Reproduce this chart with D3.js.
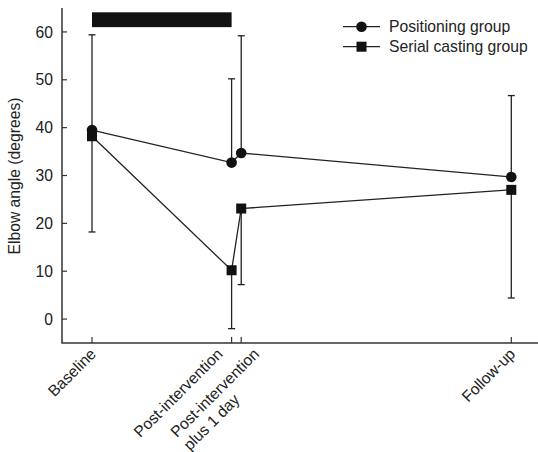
<!DOCTYPE html>
<html>
<head>
<meta charset="utf-8">
<script src="https://cdn.jsdelivr.net/npm/d3@7"></script>
<style>
  body { margin: 0; background: #fff; }
  text { font-family: "Liberation Sans", Arial, sans-serif; fill: #222; }
</style>
</head>
<body>
<div id="chart"></div>
<script>
// time points (days from baseline) and their labels
var timeDays = [0, 14.55, 15.55, 43.7];
var timeLabels = [["Baseline"], ["Post-intervention"], ["Post-intervention", "plus 1 day"], ["Follow-up"]];

// Positioning group: mean and upper SD bar
var posMean = [39.5, 32.7, 34.7, 29.7];
var posUpper = [59.4, 50.2, 59.2, 46.7];
// Serial casting group: mean and lower SD bar
var castMean = [38.2, 10.2, 23.1, 27.0];
var castLower = [18.2, -2.0, 7.2, 4.4];

var yTicks = [0, 10, 20, 30, 40, 50, 60];
var interventionBar = {from: 0, to: 14.55, low: 61, high: 64.1};

// horizontal nudge of crowded x labels (px)
var labelNudge = [0, -13, 14, 0];
var fontSize = "15.7px";

var W = 538, H = 452;
var svg = d3.select("#chart").append("svg")
  .attr("width", W).attr("height", H);

var x = d3.scaleLinear().domain([0, 43.7]).range([92, 511.3]);
var y = d3.scaleLinear().domain([-5, 65]).range([343, 8]);

// axes lines
svg.append("line").attr("x1", 61.3).attr("x2", W)
  .attr("y1", y(-5)).attr("y2", y(-5))
  .attr("stroke", "#333").attr("stroke-width", 1.5);
svg.append("line").attr("x1", 62).attr("x2", 62)
  .attr("y1", y(65)).attr("y2", y(-5))
  .attr("stroke", "#333").attr("stroke-width", 1.5);

// y ticks (inside)
svg.selectAll(".ytick").data(yTicks).join("line")
  .attr("x1", 62).attr("x2", 67)
  .attr("y1", d => y(d)).attr("y2", d => y(d))
  .attr("stroke", "#333").attr("stroke-width", 1.2);
svg.selectAll(".ylab").data(yTicks).join("text")
  .attr("x", 53).attr("y", d => y(d)).attr("dy", "0.36em")
  .attr("text-anchor", "end").style("font-size", fontSize)
  .text(d => d);

// x ticks (inside)
svg.selectAll(".xtick").data(timeDays).join("line")
  .attr("x1", d => x(d)).attr("x2", d => x(d))
  .attr("y1", y(-5)).attr("y2", y(-5) - 6)
  .attr("stroke", "#333").attr("stroke-width", 1.2);

// rotated labels: block right-anchored on its first line, lines left-aligned
svg.selectAll(".xlab").data(timeDays).join("text")
  .attr("transform", (d, i) => "translate(" + (x(d) + 5 + labelNudge[i]) + "," + (y(-5) + 12) + ") rotate(-45)")
  .style("font-size", fontSize)
  .each(function(d, i) {
    var t = d3.select(this);
    var spans = timeLabels[i].map(function(s, j) {
      return t.append("tspan").attr("dy", j == 0 ? 0 : "1.17em").text(s);
    });
    var w = spans[0].node().getComputedTextLength();
    spans.forEach(sp => sp.attr("x", -w));
  });

// y axis title
svg.append("text")
  .attr("transform", "translate(20,176) rotate(-90)")
  .attr("text-anchor", "middle").style("font-size", fontSize)
  .text("Elbow angle (degrees)");

// intervention bar
svg.append("rect")
  .attr("x", x(interventionBar.from)).attr("width", x(interventionBar.to) - x(interventionBar.from))
  .attr("y", y(interventionBar.high)).attr("height", y(interventionBar.low) - y(interventionBar.high))
  .attr("fill", "#111");

var line = d3.line().x(d => x(d[0])).y(d => y(d[1]));
var posPts = timeDays.map((d, i) => [d, posMean[i]]);
var castPts = timeDays.map((d, i) => [d, castMean[i]]);

// error bars
function errBars(means, ends) {
  var g = svg.append("g").attr("stroke", "#222").attr("stroke-width", 1.3);
  g.selectAll("line.v").data(timeDays).join("line")
    .attr("x1", d => x(d)).attr("x2", d => x(d))
    .attr("y1", (d, i) => y(means[i])).attr("y2", (d, i) => y(ends[i]));
  g.selectAll("line.c").data(timeDays).join("line")
    .attr("x1", d => x(d) - 3.5).attr("x2", d => x(d) + 3.5)
    .attr("y1", (d, i) => y(ends[i])).attr("y2", (d, i) => y(ends[i]));
}
errBars(posMean, posUpper);
errBars(castMean, castLower);

svg.append("path").datum(posPts).attr("d", line)
  .attr("fill", "none").attr("stroke", "#222").attr("stroke-width", 1.3);
svg.append("path").datum(castPts).attr("d", line)
  .attr("fill", "none").attr("stroke", "#222").attr("stroke-width", 1.3);

svg.selectAll(".pos").data(posPts).join("circle")
  .attr("cx", d => x(d[0])).attr("cy", d => y(d[1])).attr("r", 5.3)
  .attr("fill", "#111");
svg.selectAll(".cast").data(castPts).join("rect")
  .attr("x", d => x(d[0]) - 5).attr("y", d => y(d[1]) - 5)
  .attr("width", 10).attr("height", 10).attr("fill", "#111");

// legend
var legend = svg.append("g");
var legendItems = ["Positioning group", "Serial casting group"];
legendItems.forEach(function(name, i) {
  var ly = 26.7 + i * 20;
  legend.append("line").attr("x1", 343).attr("x2", 380)
    .attr("y1", ly).attr("y2", ly).attr("stroke", "#222").attr("stroke-width", 1.3);
  if (i == 0) {
    legend.append("circle").attr("cx", 361.5).attr("cy", ly).attr("r", 5.3).attr("fill", "#111");
  } else {
    legend.append("rect").attr("x", 356.5).attr("y", ly - 5).attr("width", 10).attr("height", 10).attr("fill", "#111");
  }
  legend.append("text").attr("x", 389).attr("y", ly).attr("dy", "0.36em")
    .style("font-size", fontSize).text(name);
});
</script>
</body>
</html>
